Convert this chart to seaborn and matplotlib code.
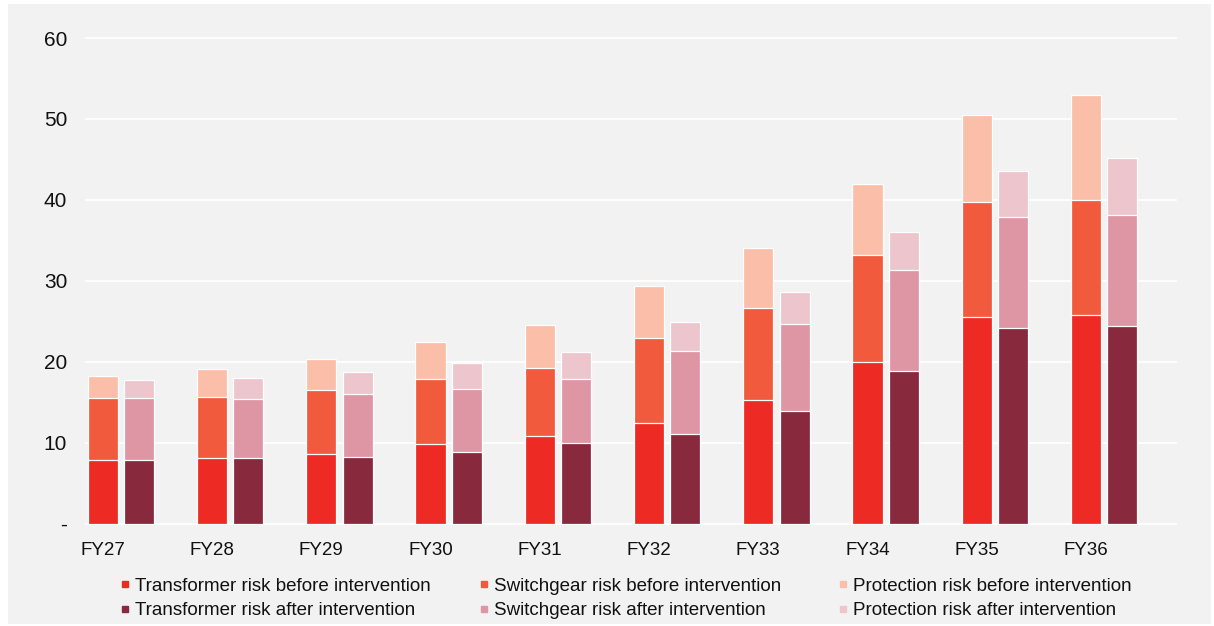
import matplotlib
matplotlib.use("Agg")
import matplotlib.pyplot as plt
from matplotlib.lines import Line2D
from matplotlib.patches import Rectangle
import pandas as pd
import seaborn as sns

# Risk values per financial year
years = ["FY27", "FY28", "FY29", "FY30", "FY31", "FY32", "FY33", "FY34", "FY35", "FY36"]
transformer_before = [7.9, 8.1, 8.6, 9.8, 10.8, 12.4, 15.3, 20.0, 25.5, 25.8]
switchgear_before = [7.6, 7.6, 7.9, 8.1, 8.4, 10.5, 11.3, 13.2, 14.2, 14.2]
protection_before = [2.8, 3.4, 3.9, 4.6, 5.4, 6.5, 7.5, 8.8, 10.8, 12.9]
transformer_after = [7.9, 8.1, 8.3, 8.9, 10.0, 11.1, 13.9, 18.9, 24.2, 24.4]
switchgear_after = [7.6, 7.3, 7.7, 7.8, 7.9, 10.2, 10.8, 12.4, 13.7, 13.7]
protection_after = [2.3, 2.6, 2.8, 3.2, 3.3, 3.6, 3.9, 4.7, 5.7, 7.1]

y_ticks = [0, 10, 20, 30, 40, 50, 60]
y_tick_labels = ["-", "10", "20", "30", "40", "50", "60"]

legend_labels = {
    "t_before": "Transformer risk before intervention",
    "t_after": "Transformer risk after intervention",
    "s_before": "Switchgear risk before intervention",
    "s_after": "Switchgear risk after intervention",
    "p_before": "Protection risk before intervention",
    "p_after": "Protection risk after intervention",
}
colors = {
    "t_before": "#EE2A24",
    "t_after": "#89293D",
    "s_before": "#F15A3C",
    "s_after": "#DE96A5",
    "p_before": "#FBBFA9",
    "p_after": "#EDC5CC",
}

BG = "#F2F2F2"
TEXT = "#111111"

sns.set_style("white")
plt.rcParams["font.family"] = ["Liberation Sans", "DejaVu Sans"]

# Each year takes three slots: before bar, after bar, gap
rows = []
for i, fy in enumerate(years):
    for stage, offset, t, s, p in (
        ("before", 0.5, transformer_before[i], switchgear_before[i], protection_before[i]),
        ("after", 1.5, transformer_after[i], switchgear_after[i], protection_after[i]),
    ):
        rows.append({"year": fy, "stage": stage, "pos": 3 * i + offset,
                     "transformer": t, "switchgear": t + s, "total": t + s + p})
df = pd.DataFrame(rows)

W, H = 1214, 626
fig = plt.figure(figsize=(W / 100, H / 100), dpi=100)
fig.patch.set_facecolor("white")
fig.add_artist(Rectangle((8 / W, 2 / H), (1211 - 8) / W, (622 - 2) / H,
                         transform=fig.transFigure, facecolor=BG,
                         edgecolor="none", zorder=0))

px_per_unit = 8.095
y0_px = 523.7
ymin, ymax = -0.2, 60.2
bottom_px = y0_px - ymin * px_per_unit
top_px = y0_px - ymax * px_per_unit
left_px, right_px = 84.5, 1177
ax = fig.add_axes([left_px / W, (H - bottom_px) / H,
                   (right_px - left_px) / W, (bottom_px - top_px) / H])
ax.set_facecolor("none")

# Stacked bars: draw cumulative heights from the top segment down
layers = [("total", "p_before", "p_after"),
          ("switchgear", "s_before", "s_after"),
          ("transformer", "t_before", "t_after")]
for col, kb, ka in layers:
    sns.barplot(data=df, x="pos", y=col, hue="stage", hue_order=["before", "after"],
                palette=[colors[kb], colors[ka]], native_scale=True, dodge=False,
                width=0.83, saturation=1, edgecolor="white", linewidth=0.9,
                errorbar=None, legend=False, ax=ax, zorder=3)

ax.set_xlim(0, 30)
ax.set_ylim(ymin, ymax)
ax.set_xlabel("")
ax.set_ylabel("")

for sp in ax.spines.values():
    sp.set_visible(False)

ax.set_yticks(y_ticks)
ax.set_yticklabels(y_tick_labels, fontsize=15, color=TEXT)
ax.tick_params(axis="y", length=0, pad=12.5)
ax.yaxis.grid(True, color="white", linewidth=1.3, zorder=1)
ax.xaxis.grid(False)
ax.set_axisbelow(True)

ax.set_xticks([3 * i + 0.5 for i in range(len(years))])
ax.set_xticklabels(years, fontsize=13.5, color=TEXT)
ax.set_xticks(range(31), minor=True)
ax.tick_params(axis="x", which="major", length=0, pad=12)
ax.tick_params(axis="x", which="minor", length=3.8, width=1.2, color="white",
               direction="out")

# Legend: three columns, before on top and after below
legend_cols = [(125, ["t_before", "t_after"]),
               (484, ["s_before", "s_after"]),
               (843, ["p_before", "p_after"])]
fs_pt = 13.5
fs_px = fs_pt * 100 / 72
hl = 0.6
for cx, keys in legend_cols:
    handles = [Line2D([], [], marker="s", linestyle="", markersize=4.8,
                      markerfacecolor=colors[k], markeredgecolor=colors[k])
               for k in keys]
    lg = fig.legend(handles, [legend_labels[k] for k in keys],
                    loc="center left",
                    bbox_to_anchor=((cx - hl * fs_px / 2) / W, (H - 598.5) / H),
                    frameon=False, fontsize=fs_pt, handlelength=hl,
                    handletextpad=0.24, borderpad=0, borderaxespad=0,
                    labelspacing=0.4, labelcolor=TEXT)

fig.savefig("out.png", dpi=100)
